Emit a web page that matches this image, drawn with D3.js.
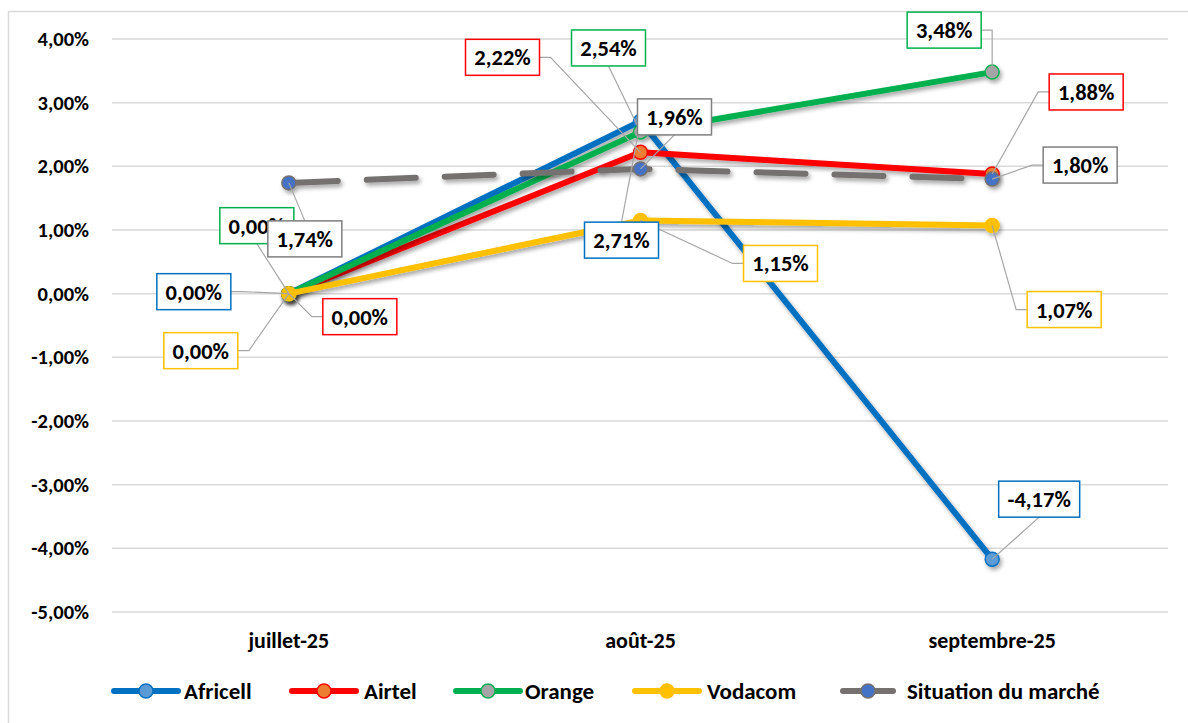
<!DOCTYPE html>
<html lang="fr">
<head>
<meta charset="utf-8">
<script src="https://d3js.org/d3.v7.min.js"></script>
<style>
  body { margin: 0; background: #fff; }
  text { font-family: Carlito, Calibri, "Liberation Sans", Arial, sans-serif; font-weight: bold; fill: #000; }
</style>
</head>
<body>
<script>
// data
var months = ["juillet-25", "août-25", "septembre-25"];
var seriesNames = ["Africell", "Airtel", "Orange", "Vodacom", "Situation du marché"];
var africell = [0.0000, 0.0271, -0.0417];
var airtel   = [0.0000, 0.0222, 0.0188];
var orange   = [0.0000, 0.0254, 0.0348];
var vodacom  = [0.0000, 0.0115, 0.0107];
var marche   = [0.0174, 0.0196, 0.0180];
var yTicks = [-0.05, -0.04, -0.03, -0.02, -0.01, 0, 0.01, 0.02, 0.03, 0.04];

// styles
var lineColors   = ["#0070C0", "#FF0000", "#00B050", "#FFC000", "#767171"];
var markerFills  = ["#5B9BD5", "#ED7D31", "#A5A5A5", "#FFC000", "#4472C4"];
var boxColors    = ["#0070C0", "#FF0000", "#00B050", "#FFC000", "#7F7F7F"];

// label box offsets from point (dx, dy of box centre) and leader side
var labelLayout = [
  [[-95, -2, "r"], [-19, 119, "t"], [47, -60, "b"]],
  [[71, 23, "l"], [-138, -95, "r"], [94, -82, "l"]],
  [[-32, -68, "b"], [-32, -84, "b"], [-48, -42, "r"]],
  [[-88, 57, "r"], [140, 43, "l"], [72, 84, "l"]],
  [[16, 56, "t"], [34, -52, "b"], [88, -14, "l"]]
];

var allValues = [africell, airtel, orange, vodacom, marche];

var W = 1188, H = 723;
var svg = d3.select("body").append("svg").attr("width", W).attr("height", H);

var defs = svg.append("defs");
var f = defs.append("filter").attr("id", "shadow").attr("x", "-20%").attr("y", "-20%").attr("width", "140%").attr("height", "140%");
f.append("feDropShadow").attr("dx", 2).attr("dy", 3).attr("stdDeviation", 2).attr("flood-color", "#000").attr("flood-opacity", 0.35);

// chart frame
svg.append("rect").attr("x", 8.5).attr("y", 11.5).attr("width", W + 10).attr("height", H + 10)
  .attr("fill", "#fff").attr("stroke", "#d9d9d9").attr("stroke-width", 1.5);

var x = d3.scaleBand().domain(months).range([113, 1168]);
var y = d3.scaleLinear().domain([-0.05, 0.04]).range([612, 39]);
var cx = function(i) { return x(months[i]) + x.bandwidth() / 2; };

var fr = d3.formatLocale({decimal: ",", thousands: " ", grouping: [3], currency: ["", " €"], minus: "-"});
var pct = fr.format(".2%");

// gridlines
svg.append("g").selectAll("line").data(yTicks).join("line")
  .attr("x1", 112).attr("x2", 1168)
  .attr("y1", function(d) { return y(d); }).attr("y2", function(d) { return y(d); })
  .attr("stroke", "#d9d9d9").attr("stroke-width", 1.5);

// y axis
var yAxis = svg.append("g").attr("transform", "translate(112,0)")
  .call(d3.axisLeft(y).tickValues(yTicks).tickFormat(pct).tickSize(0).tickPadding(23));
yAxis.select(".domain").remove();
yAxis.selectAll("text").attr("font-size", 20.5).attr("font-family", null).attr("fill", "#000");

// x axis labels
svg.append("g").selectAll("text").data(months).join("text")
  .attr("x", function(d, i) { return cx(i); }).attr("y", 648)
  .attr("text-anchor", "middle").attr("font-size", 22)
  .text(function(d) { return d; });

// series
var line = d3.line().x(function(d, i) { return cx(i); }).y(function(d) { return y(d); });

allValues.forEach(function(vals, s) {
  var g = svg.append("g").attr("filter", "url(#shadow)");
  var p = g.append("path").datum(vals).attr("d", line)
    .attr("fill", "none").attr("stroke", lineColors[s]).attr("stroke-width", 6)
    .attr("stroke-linejoin", "round").attr("stroke-linecap", "round");
  if (s === 4) p.attr("stroke-dasharray", "49,29");
  g.selectAll("circle").data(vals).join("circle")
    .attr("cx", function(d, i) { return cx(i); }).attr("cy", function(d) { return y(d); })
    .attr("r", 7).attr("fill", markerFills[s])
    .attr("stroke", s === 4 ? "#767171" : lineColors[s]).attr("stroke-width", 1.5);
});

// data labels with leader lines
var bw = 74, bh = 36;
allValues.forEach(function(vals, s) {
  vals.forEach(function(v, i) {
    var px = cx(i), py = y(v);
    var lay = labelLayout[s][i];
    var txt = pct(v);
    var w = txt.length > 5 ? 81 : bw;
    var bx = px + lay[0], by = py + lay[1];
    var pts;
    if (lay[2] === "r") pts = [[bx + w / 2, by], [bx + w / 2 + 11, by], [px, py]];
    else if (lay[2] === "l") pts = [[bx - w / 2, by], [bx - w / 2 - 11, by], [px, py]];
    else if (lay[2] === "t") pts = [[bx, by - bh / 2], [px, py]];
    else pts = [[bx, by + bh / 2], [px, py]];
    svg.append("path").attr("d", d3.line()(pts))
      .attr("fill", "none").attr("stroke", "#a6a6a6").attr("stroke-width", 1.2);
  });
});
allValues.forEach(function(vals, s) {
  vals.forEach(function(v, i) {
    var px = cx(i), py = y(v);
    var lay = labelLayout[s][i];
    var txt = pct(v);
    var w = txt.length > 5 ? 81 : bw;
    var bx = px + lay[0], by = py + lay[1];
    svg.append("rect").attr("x", bx - w / 2).attr("y", by - bh / 2)
      .attr("width", w).attr("height", bh)
      .attr("fill", "#fff").attr("stroke", boxColors[s]).attr("stroke-width", 1.5);
    svg.append("text").attr("x", bx).attr("y", by + 8)
      .attr("text-anchor", "middle").attr("font-size", 22.5).text(txt);
  });
});

// legend
var legendX = [146, 324, 488, 667, 868];
var legendLen = [70, 70, 70, 70, 56];
var legendTextX = [184, 364, 525, 707, 907];
var lg = svg.append("g").attr("transform", "translate(0,691)");
seriesNames.forEach(function(name, s) {
  lg.append("line").attr("x1", legendX[s] - legendLen[s] / 2 + 3).attr("x2", legendX[s] + legendLen[s] / 2 - 3)
    .attr("stroke", lineColors[s]).attr("stroke-width", 6).attr("stroke-linecap", "round");
  lg.append("circle").attr("cx", legendX[s]).attr("r", 7).attr("fill", markerFills[s])
    .attr("stroke", s === 4 ? "#767171" : lineColors[s]).attr("stroke-width", 1.5);
  lg.append("text").attr("x", legendTextX[s]).attr("y", 7.5).attr("font-size", 23).text(name);
});
</script>
</body>
</html>
